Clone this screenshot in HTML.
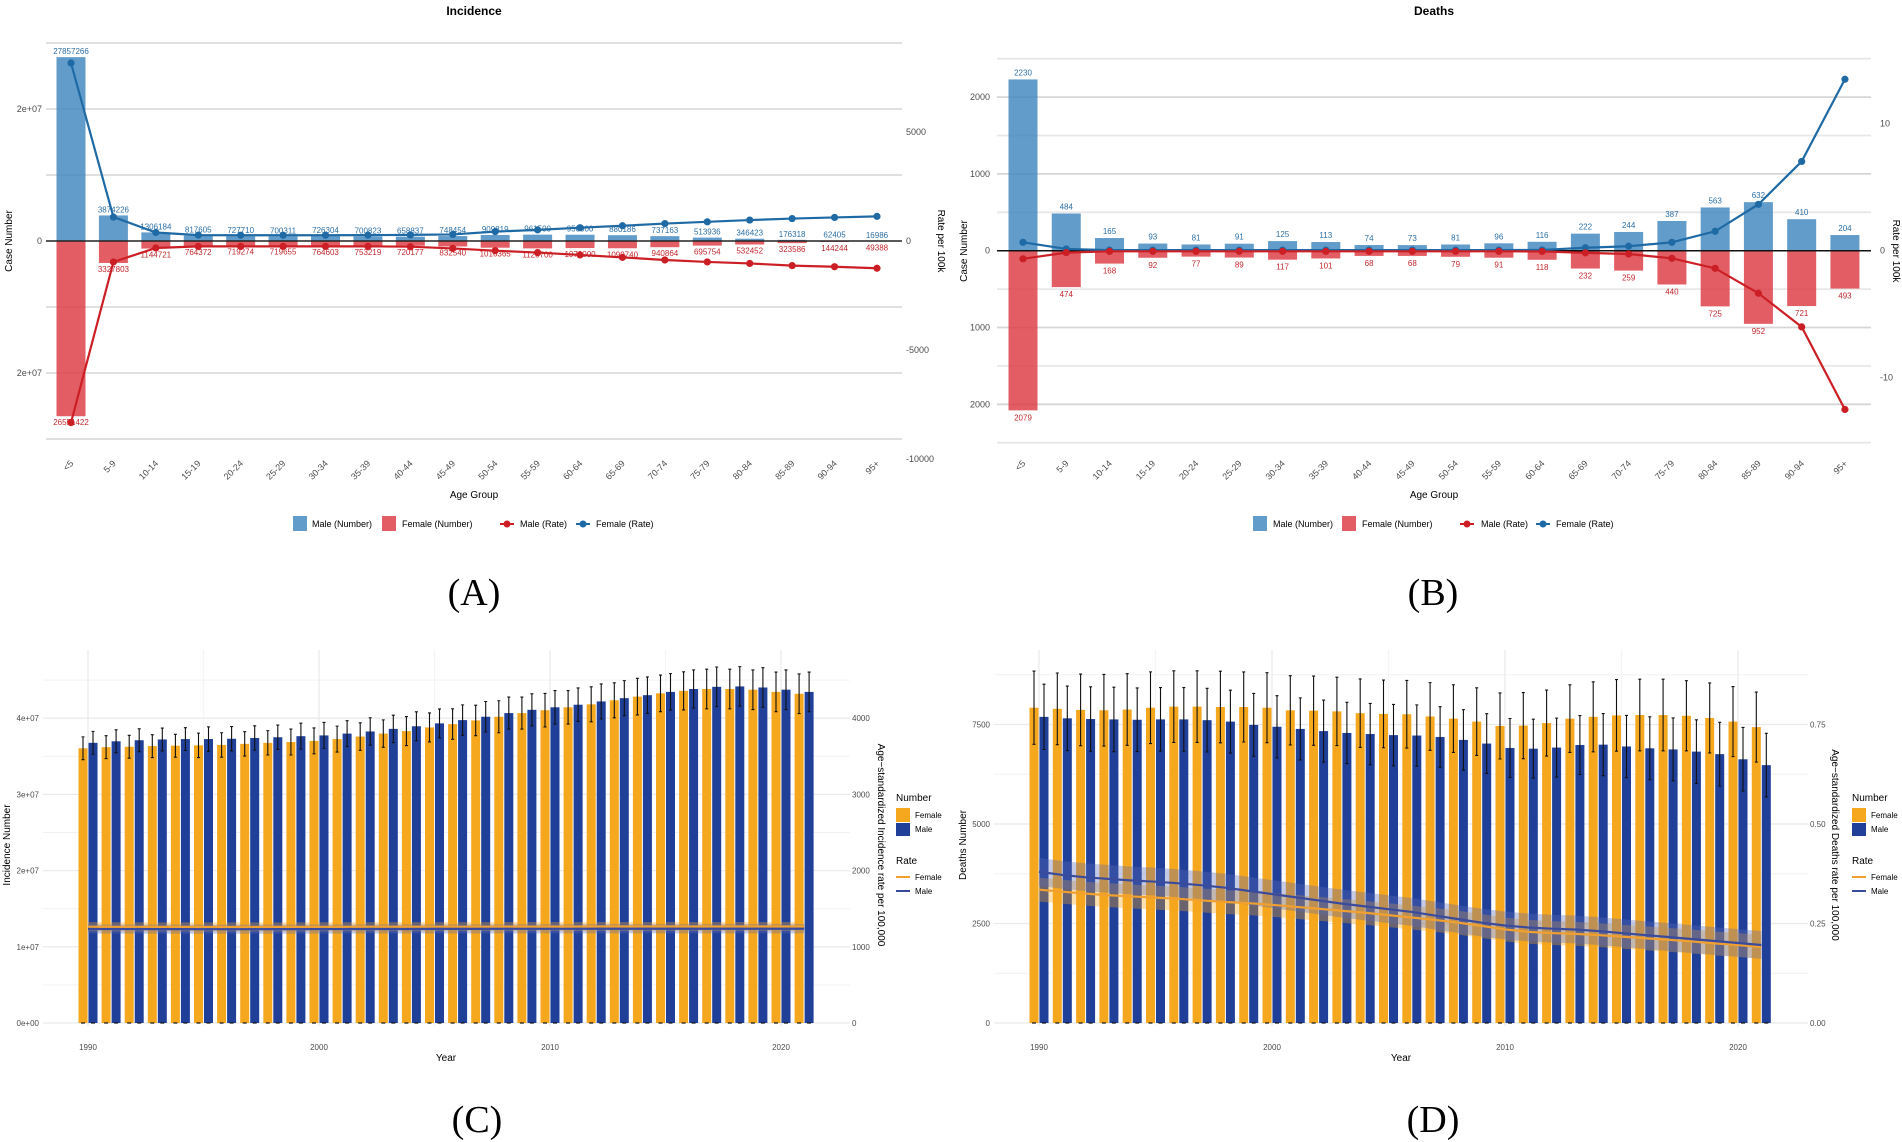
<!DOCTYPE html>
<html><head><meta charset="utf-8">
<style>
html,body{margin:0;padding:0;background:#fff;}
svg{display:block;font-family:"Liberation Sans",sans-serif;}
</style></head>
<body>
<svg id="fig" width="1902" height="1142" viewBox="0 0 1902 1142" xmlns="http://www.w3.org/2000/svg">
<text x="474" y="15" text-anchor="middle" font-size="12" font-weight="bold">Incidence</text>
<text x="1434" y="15" text-anchor="middle" font-size="12" font-weight="bold">Deaths</text>
<text x="474" y="605" text-anchor="middle" font-size="38" font-family="Liberation Serif,serif">(A)</text>
<text x="1433" y="605" text-anchor="middle" font-size="38" font-family="Liberation Serif,serif">(B)</text>
<text x="477" y="1132" text-anchor="middle" font-size="38" font-family="Liberation Serif,serif">(C)</text>
<text x="1433" y="1132" text-anchor="middle" font-size="38" font-family="Liberation Serif,serif">(D)</text>
</svg>
<script>
const ages = ["<5","5-9","10-14","15-19","20-24","25-29","30-34","35-39","40-44","45-49","50-54","55-59","60-64","65-69","70-74","75-79","80-84","85-89","90-94","95+"];
const incMaleNum = [27857266,3874226,1306184,817605,727710,700311,726304,700823,658837,748454,909819,961500,950000,880186,737163,513936,346423,176318,62405,16986];
const incFemaleNum = [26551422,3327803,1144721,764372,719274,719655,764603,753219,720177,832540,1016365,1120700,1070000,1099740,940864,695754,532452,323586,144244,49388];
const incFemaleRate = [8165,1100,390,270,265,265,265,270,280,300,430,510,610,700,800,880,960,1030,1080,1130];
const incMaleRate = [-8330,-960,-320,-245,-245,-245,-245,-245,-260,-340,-445,-530,-640,-750,-870,-960,-1030,-1130,-1180,-1250];
const dthMaleNum = [2230,484,165,93,81,91,125,113,74,73,81,96,116,222,244,387,563,632,410,204];
const dthFemaleNum = [2079,474,168,92,77,89,117,101,68,68,79,91,118,232,259,440,725,952,721,493];
const dthFemaleRate = [0.66,0.14,0.05,0.05,0.05,0.05,0.05,0.05,0.05,0.05,0.05,0.05,0.06,0.23,0.35,0.66,1.53,3.65,7.03,13.5];
const dthMaleRate = [-0.64,-0.15,-0.05,-0.05,-0.05,-0.05,-0.05,-0.05,-0.05,-0.05,-0.05,-0.05,-0.06,-0.17,-0.26,-0.6,-1.39,-3.35,-6.0,-12.5];
const years = [1990,1991,1992,1993,1994,1995,1996,1997,1998,1999,2000,2001,2002,2003,2004,2005,2006,2007,2008,2009,2010,2011,2012,2013,2014,2015,2016,2017,2018,2019,2020,2021];
const cFemale = [36.05,36.2,36.25,36.34,36.39,36.44,36.49,36.63,36.77,36.87,37.02,37.26,37.59,37.98,38.31,38.79,39.23,39.71,40.19,40.67,41.05,41.43,41.82,42.35,42.83,43.26,43.59,43.83,43.83,43.74,43.45,43.21];
const cMale = [36.77,36.97,37.11,37.21,37.26,37.26,37.3,37.4,37.5,37.64,37.74,37.98,38.26,38.6,38.94,39.32,39.75,40.19,40.67,41.1,41.43,41.77,42.2,42.63,43.02,43.45,43.83,44.12,44.17,44.03,43.74,43.45];
const cErrF = [1.5,1.5,1.5,1.5,1.5,1.6,1.6,1.6,1.6,1.7,1.7,1.7,1.8,1.8,1.9,1.9,2.0,2.0,2.1,2.1,2.2,2.2,2.3,2.3,2.4,2.4,2.5,2.6,2.6,2.6,2.6,2.6];
const cErrM = [1.5,1.5,1.5,1.5,1.5,1.6,1.6,1.6,1.6,1.7,1.7,1.7,1.8,1.8,1.9,1.9,2.0,2.0,2.1,2.1,2.2,2.2,2.3,2.3,2.4,2.4,2.5,2.6,2.6,2.6,2.6,2.6];
const cRateF = [1263,1262,1262,1261,1261,1260,1260,1260,1261,1261,1262,1262,1263,1263,1263,1264,1264,1264,1265,1265,1265,1265,1266,1266,1266,1266,1266,1266,1266,1266,1266,1266];
const cRateM = [1234,1233,1233,1232,1232,1231,1231,1231,1232,1232,1233,1233,1234,1234,1234,1235,1235,1235,1236,1236,1236,1236,1237,1237,1237,1237,1237,1237,1237,1237,1237,1237];
const dFemale = [7922,7894,7867,7857,7876,7922,7949,7949,7940,7940,7922,7857,7848,7830,7784,7766,7757,7702,7647,7573,7463,7472,7536,7647,7692,7729,7738,7738,7720,7665,7573,7435];
const dMale = [7692,7655,7637,7628,7619,7628,7628,7609,7573,7490,7444,7389,7334,7288,7260,7233,7223,7187,7113,7021,6911,6893,6920,6984,6994,6948,6902,6874,6819,6755,6626,6479];
const dErrF = [920,900,900,900,900,900,900,900,900,880,880,870,870,860,860,850,850,850,850,850,830,830,830,850,880,900,900,900,880,880,880,880];
const dErrM = [820,810,810,810,800,800,800,800,790,790,780,780,780,770,770,770,770,760,760,750,740,740,740,740,780,780,790,790,800,800,800,800];
const dRateM = [0.380,0.372,0.366,0.362,0.358,0.355,0.351,0.346,0.340,0.332,0.324,0.316,0.308,0.300,0.293,0.286,0.279,0.270,0.261,0.252,0.245,0.240,0.237,0.235,0.231,0.226,0.221,0.216,0.211,0.206,0.201,0.196];
const dRateF = [0.335,0.330,0.325,0.321,0.318,0.315,0.312,0.308,0.304,0.301,0.297,0.292,0.287,0.282,0.277,0.271,0.265,0.259,0.252,0.244,0.235,0.229,0.226,0.224,0.221,0.217,0.213,0.209,0.205,0.200,0.196,0.191];

const NS="http://www.w3.org/2000/svg";
const svg=document.getElementById('fig');
function mk(tag,attrs,txt){const e=document.createElementNS(NS,tag);for(const k in attrs)e.setAttribute(k,attrs[k]);if(txt!==undefined)e.textContent=txt;svg.appendChild(e);return e;}
function fmt(n){return String(n);}

/* ---------- Panel A ---------- */
const xA=i=>71+i*42.42, yA=v=>241-v/1e7*66, rA=r=>241-r/5000*109;
[3e7,2e7,1e7,-1e7,-2e7,-3e7].forEach(v=>{
  const g=mk('line',{x1:46,x2:902,y1:yA(v),y2:yA(v),stroke:'#dcdcdc','stroke-width':1.8});
  
  
});
[["2e+07",2e7],["0",0],["2e+07",-2e7]].forEach(t=>{
  const e=mk('text',{x:42,y:yA(t[1])+3,'text-anchor':'end','font-size':9,fill:'#4d4d4d'},t[0]);
  
  
});
[["5000",5000],["0",0],["-5000",-5000],["-10000",-10000]].forEach(t=>{
  const e=mk('text',{x:906,y:rA(t[1])+3,'font-size':9,fill:'#4d4d4d'},t[0]);
  
  
});
ages.forEach((a,i)=>{
  const x=xA(i);
  const m=mk('rect',{x:x-14.5,y:yA(incMaleNum[i]),width:29,height:241-yA(incMaleNum[i]),fill:'#3f86be','fill-opacity':0.82});
  
  
  const f=mk('rect',{x:x-14.5,y:241,width:29,height:yA(-incFemaleNum[i])-241,fill:'#dc3b42','fill-opacity':0.82});
  
  
  const lm=mk('text',{x:x,y:yA(incMaleNum[i])-3,'text-anchor':'middle','font-size':8,fill:'#2c6fa5'},fmt(incMaleNum[i]));
  
  
  const lf=mk('text',{x:x,y:yA(-incFemaleNum[i])+9,'text-anchor':'middle','font-size':8,fill:'#c0282e'},fmt(incFemaleNum[i]));
  
  
  const xt=mk('text',{x:x+3,y:464,'text-anchor':'end','font-size':9,fill:'#4d4d4d',transform:`rotate(-45 ${x+3} 464)`},a);
  
  
});
const z1=mk('line',{x1:46,x2:902,y1:241,y2:241,stroke:'#222','stroke-width':1.5});


function series(xf,yf,vals,col,nm){
  const p=mk('polyline',{points:vals.map((v,i)=>xf(i)+','+yf(v)).join(' '),fill:'none',stroke:col,'stroke-width':2.2});
  
  
  vals.forEach((v,i)=>{
    const c=mk('circle',{cx:xf(i),cy:yf(v),r:3.6,fill:col});
    
    
  });
}
series(xA,rA,incFemaleRate,'#1f6aa5','a-female-rate');
series(xA,rA,incMaleRate,'#cc1f25','a-male-rate');
let t;
t=mk('text',{x:12,y:241,'text-anchor':'middle','font-size':10,transform:'rotate(-90 12 241)'},'Case Number');


t=mk('text',{x:938,y:241,'text-anchor':'middle','font-size':10,transform:'rotate(90 938 241)'},'Rate per 100k');


t=mk('text',{x:474,y:498,'text-anchor':'middle','font-size':10},'Age Group');



function legendAB(sq1,tx1,sq2,tx2,mk1,tx3,mk2,tx4,pref){
  let e;
  e=mk('rect',{x:sq1,y:516,width:14,height:15,fill:'#3f86be','fill-opacity':0.82});
  
  
  e=mk('text',{x:tx1,y:527,'font-size':9},'Male (Number)');
  
  
  e=mk('rect',{x:sq2,y:516,width:14,height:15,fill:'#dc3b42','fill-opacity':0.82});
  
  
  e=mk('text',{x:tx2,y:527,'font-size':9},'Female (Number)');
  
  
  e=mk('line',{x1:mk1-7,x2:mk1+7,y1:524,y2:524,stroke:'#cc1f25','stroke-width':2});
  
  
  e=mk('circle',{cx:mk1,cy:524,r:3.5,fill:'#cc1f25'});
  
  
  e=mk('text',{x:tx3,y:527,'font-size':9},'Male (Rate)');
  
  
  e=mk('line',{x1:mk2-7,x2:mk2+7,y1:524,y2:524,stroke:'#1f6aa5','stroke-width':2});
  
  
  e=mk('circle',{cx:mk2,cy:524,r:3.5,fill:'#1f6aa5'});
  
  
  e=mk('text',{x:tx4,y:527,'font-size':9},'Female (Rate)');
  
  
}
legendAB(293,312,382,402,507,520,583,596,'a');

/* ---------- Panel B ---------- */
const xB=i=>1023+i*43.26, yB=v=>250.7-v/500*38.4, rB=r=>250.7-r/10*127;
[2500,2000,1500,1000,500,-500,-1000,-1500,-2000,-2500].forEach(v=>{
  const g=mk('line',{x1:997,x2:1871,y1:yB(v),y2:yB(v),stroke:(v%1000===0)?'#d6d6d6':'#e8e8e8','stroke-width':1.8});
  
  
});
[["2000",2000],["1000",1000],["0",0],["1000",-1000],["2000",-2000]].forEach(tk=>{
  const e=mk('text',{x:990,y:yB(tk[1])+3,'text-anchor':'end','font-size':9,fill:'#4d4d4d'},tk[0]);
  
  
});
[["10",10],["0",0],["-10",-10]].forEach(tk=>{
  const e=mk('text',{x:1880,y:rB(tk[1])+3,'font-size':9,fill:'#4d4d4d'},tk[0]);
  
  
});
ages.forEach((a,i)=>{
  const x=xB(i);
  const m=mk('rect',{x:x-14.5,y:yB(dthMaleNum[i]),width:29,height:250.7-yB(dthMaleNum[i]),fill:'#3f86be','fill-opacity':0.82});
  
  
  const f=mk('rect',{x:x-14.5,y:250.7,width:29,height:yB(-dthFemaleNum[i])-250.7,fill:'#dc3b42','fill-opacity':0.82});
  
  
  const lm=mk('text',{x:x,y:yB(dthMaleNum[i])-4,'text-anchor':'middle','font-size':8,fill:'#2c6fa5'},fmt(dthMaleNum[i]));
  
  
  const lf=mk('text',{x:x,y:yB(-dthFemaleNum[i])+10,'text-anchor':'middle','font-size':8,fill:'#c0282e'},fmt(dthFemaleNum[i]));
  
  
  const xt=mk('text',{x:x+3,y:464,'text-anchor':'end','font-size':9,fill:'#4d4d4d',transform:`rotate(-45 ${x+3} 464)`},a);
  
  
});
const z2=mk('line',{x1:997,x2:1871,y1:250.7,y2:250.7,stroke:'#111','stroke-width':1.5});


series(xB,rB,dthFemaleRate,'#1f6aa5','b-female-rate');
series(xB,rB,dthMaleRate,'#cc1f25','b-male-rate');
t=mk('text',{x:967,y:251,'text-anchor':'middle','font-size':10,transform:'rotate(-90 967 251)'},'Case Number');


t=mk('text',{x:1893,y:251,'text-anchor':'middle','font-size':10,transform:'rotate(90 1893 251)'},'Rate per 100k');


t=mk('text',{x:1434,y:498,'text-anchor':'middle','font-size':10},'Age Group');


legendAB(1253,1273,1342,1362,1467,1481,1543,1556,'b');

/* ---------- Panels C & D ---------- */
function panelTime(o){
  const {xf,yf,rf,left,right,top,base,grid,minor,yt,rt,F,M,eF,eM,RF,RM,bandF,bandM,p,leftLbl,rightLbl,ttlL,ttlR,ttlLx,ttlRx,lgx,xyr}=o;
  minor.forEach(v=>{const g=mk('line',{x1:left,x2:right,y1:yf(v),y2:yf(v),stroke:'#f2f2f2','stroke-width':1});
    
    });
  grid.forEach(v=>{const g=mk('line',{x1:left,x2:right,y1:yf(v),y2:yf(v),stroke:'#ebebeb','stroke-width':1.3});
    
    });
  [1990,1995,2000,2005,2010,2015,2020].forEach(yr=>{const g=mk('line',{x1:xf(yr),x2:xf(yr),y1:top,y2:base+3,stroke:yr%10===0?'#ebebeb':'#f4f4f4','stroke-width':1.3});
    
    });
  years.forEach((yr,i)=>{
    const x=xf(yr);
    const bf=mk('rect',{x:x-9.5,y:yf(F[i]),width:9,height:base-yf(F[i]),fill:'#f5a71d'});
    
    
    const bm=mk('rect',{x:x+0.5,y:yf(M[i]),width:9,height:base-yf(M[i]),fill:'#1f3f98'});
    
    
    [[x-5,F[i],eF[i]],[x+5,M[i],eM[i]]].forEach(q=>{
      const e=mk('path',{d:`M${q[0]-1.5},${yf(q[1]+q[2])}H${q[0]+1.5}M${q[0]},${yf(q[1]+q[2])}V${yf(q[1]-q[2])}M${q[0]-1.5},${yf(q[1]-q[2])}H${q[0]+1.5}`,stroke:'#111','stroke-width':1.1,fill:'none'});
      
      
      const b=mk('line',{x1:q[0]-2,x2:q[0]+2,y1:base,y2:base,stroke:'#111','stroke-width':1.2});
      
      
    });
  });
  [[RF,bandF,'#f5a71d','#f0a030','female'],[RM,bandM,'#5a6ab8','#3b4b9c','male']].forEach(s=>{
    const up=years.map((yr,i)=>xf(yr)+','+rf(s[0][i]+s[1]));
    const dn=years.map((yr,i)=>xf(yr)+','+rf(s[0][i]-s[1])).reverse();
    const b=mk('polygon',{points:up.concat(dn).join(' '),fill:s[2],'fill-opacity':0.35});
    
    
  });
  [[RF,'#f0a030','female'],[RM,'#3b4b9c','male']].forEach(s=>{
    const l=mk('polyline',{points:years.map((yr,i)=>xf(yr)+','+rf(s[0][i])).join(' '),fill:'none',stroke:s[1],'stroke-width':2.2});
    
    
  });
  yt.forEach(tk=>{const e=mk('text',{x:leftLbl,y:yf(tk[1])+3,'text-anchor':'end','font-size':8,fill:'#4d4d4d'},tk[0]);
    
    });
  rt.forEach(tk=>{const e=mk('text',{x:rightLbl,y:rf(tk[1])+3,'font-size':8,fill:'#4d4d4d'},tk[0]);
    
    });
  [1990,2000,2010,2020].forEach(yr=>{const e=mk('text',{x:xf(yr),y:1050,'text-anchor':'middle','font-size':8,fill:'#4d4d4d'},String(yr));
    
    });
  let e;
  e=mk('text',{x:xyr,y:1061,'text-anchor':'middle','font-size':10},'Year');
  
  
  e=mk('text',{x:ttlLx,y:845,'text-anchor':'middle','font-size':10,transform:`rotate(-90 ${ttlLx} 845)`},ttlL);
  
  
  e=mk('text',{x:ttlRx,y:845,'text-anchor':'middle','font-size':10,transform:`rotate(90 ${ttlRx} 845)`},ttlR);
  
  
  e=mk('text',{x:lgx,y:801,'font-size':10},'Number');
  
  
  e=mk('rect',{x:lgx,y:808,width:14,height:14,fill:'#f5a71d'});
  
  
  e=mk('text',{x:lgx+19,y:818,'font-size':8},'Female');
  
  
  e=mk('rect',{x:lgx,y:823,width:14,height:13,fill:'#1f3f98'});
  
  
  e=mk('text',{x:lgx+19,y:832,'font-size':8},'Male');
  
  
  e=mk('text',{x:lgx,y:864,'font-size':10},'Rate');
  
  
  e=mk('line',{x1:lgx,x2:lgx+14,y1:877,y2:877,stroke:'#f0a030','stroke-width':2});
  
  
  e=mk('text',{x:lgx+19,y:880,'font-size':8},'Female');
  
  
  e=mk('line',{x1:lgx,x2:lgx+14,y1:891,y2:891,stroke:'#3b4b9c','stroke-width':2});
  
  
  e=mk('text',{x:lgx+19,y:894,'font-size':8},'Male');
  
  
}
panelTime({
  xf:yr=>88+(yr-1990)*23.1, yf:v=>1023-v/10*76.2, rf:r=>1023-r/1000*76.2,
  left:43,right:850,top:650,base:1023,
  grid:[0,10,20,30,40], minor:[5,15,25,35,45],
  yt:[["0e+00",0],["1e+07",10],["2e+07",20],["3e+07",30],["4e+07",40]],
  rt:[["0",0],["1000",1000],["2000",2000],["3000",3000],["4000",4000]],
  F:cFemale,M:cMale,eF:cErrF,eM:cErrM,RF:cRateF,RM:cRateM,bandF:60,bandM:60,p:'c',
  leftLbl:39,rightLbl:852,ttlL:'Incidence Number',ttlR:'Age\u2212standardized Incidence rate per 100,000',ttlLx:10,ttlRx:878,lgx:896,xyr:446
});
panelTime({
  xf:yr=>1039+(yr-1990)*23.3, yf:v=>1023-v/2500*99.5, rf:r=>1023-r/0.25*99.5,
  left:994,right:1808,top:650,base:1023,
  grid:[0,2500,5000,7500], minor:[1250,3750,6250,8750],
  yt:[["0",0],["2500",2500],["5000",5000],["7500",7500]],
  rt:[["0.00",0],["0.25",0.25],["0.50",0.5],["0.75",0.75]],
  F:dFemale,M:dMale,eF:dErrF,eM:dErrM,RF:dRateF,RM:dRateM,bandF:0.03,bandM:0.035,p:'d',
  leftLbl:990,rightLbl:1810,ttlL:'Deaths Number',ttlR:'Age\u2212standardized Deaths rate per 100,000',ttlLx:966,ttlRx:1832,lgx:1852,xyr:1401
});
</script>
</body></html>
